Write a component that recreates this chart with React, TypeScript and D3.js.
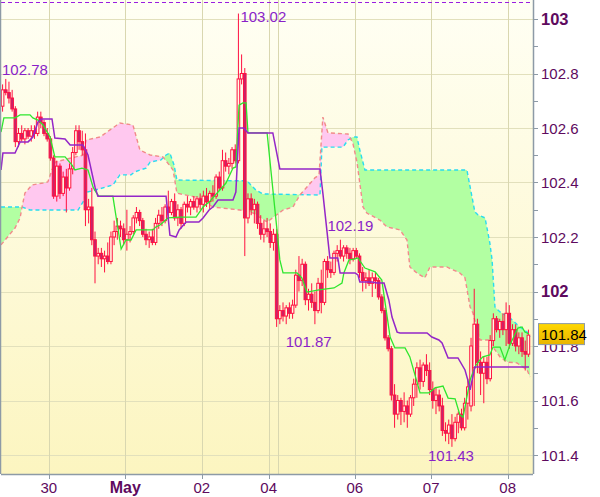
import React from 'react';
import * as d3 from 'd3';

const W = 600;
const H = 497;

// hourly candles [open, high, low, close]
const candles: [number, number, number, number][] = [
  [102.68, 102.76, 102.66, 102.74], [102.74, 102.78, 102.72, 102.73], [102.73, 102.77, 102.69, 102.71], [102.71, 102.74, 102.66, 102.67],
  [102.67, 102.68, 102.53, 102.55], [102.55, 102.60, 102.53, 102.58], [102.58, 102.61, 102.55, 102.56], [102.56, 102.60, 102.54, 102.59],
  [102.59, 102.60, 102.56, 102.57], [102.57, 102.61, 102.55, 102.59], [102.59, 102.61, 102.56, 102.58], [102.58, 102.66, 102.57, 102.64],
  [102.64, 102.66, 102.60, 102.62], [102.62, 102.63, 102.57, 102.58], [102.58, 102.60, 102.55, 102.56], [102.56, 102.57, 102.48, 102.49],
  [102.49, 102.50, 102.34, 102.35], [102.35, 102.48, 102.33, 102.46], [102.46, 102.47, 102.34, 102.36], [102.36, 102.44, 102.35, 102.42],
  [102.42, 102.45, 102.29, 102.38], [102.38, 102.47, 102.37, 102.45], [102.45, 102.53, 102.43, 102.51], [102.51, 102.61, 102.50, 102.59],
  [102.59, 102.61, 102.52, 102.55], [102.55, 102.59, 102.50, 102.52], [102.52, 102.58, 102.24, 102.30], [102.30, 102.34, 102.25, 102.31],
  [102.31, 102.38, 102.17, 102.19], [102.19, 102.22, 102.03, 102.13], [102.13, 102.16, 102.10, 102.14], [102.14, 102.16, 102.09, 102.12],
  [102.12, 102.15, 102.07, 102.13], [102.13, 102.18, 102.10, 102.11], [102.11, 102.22, 102.10, 102.20], [102.20, 102.26, 102.17, 102.22],
  [102.22, 102.27, 102.19, 102.24], [102.24, 102.26, 102.20, 102.23], [102.23, 102.25, 102.17, 102.19], [102.19, 102.30, 102.15, 102.21],
  [102.21, 102.24, 102.18, 102.22], [102.22, 102.28, 102.21, 102.27], [102.27, 102.31, 102.25, 102.29], [102.29, 102.30, 102.24, 102.26],
  [102.26, 102.27, 102.20, 102.21], [102.21, 102.23, 102.17, 102.19], [102.19, 102.22, 102.16, 102.20], [102.20, 102.23, 102.17, 102.18],
  [102.18, 102.27, 102.17, 102.25], [102.25, 102.30, 102.23, 102.28], [102.28, 102.31, 102.24, 102.26], [102.26, 102.32, 102.25, 102.31],
  [102.31, 102.37, 102.27, 102.29], [102.29, 102.34, 102.28, 102.33], [102.33, 102.36, 102.26, 102.27], [102.27, 102.32, 102.24, 102.30],
  [102.30, 102.31, 102.23, 102.25], [102.25, 102.33, 102.24, 102.32], [102.32, 102.35, 102.29, 102.31], [102.31, 102.34, 102.28, 102.33],
  [102.33, 102.35, 102.30, 102.31], [102.31, 102.35, 102.29, 102.34], [102.34, 102.36, 102.30, 102.32], [102.32, 102.37, 102.29, 102.35],
  [102.35, 102.38, 102.31, 102.33], [102.33, 102.37, 102.30, 102.36], [102.36, 102.39, 102.33, 102.35], [102.35, 102.43, 102.34, 102.42],
  [102.42, 102.44, 102.37, 102.38], [102.38, 102.52, 102.37, 102.48], [102.48, 102.51, 102.44, 102.46], [102.46, 102.49, 102.43, 102.47],
  [102.47, 102.53, 102.45, 102.52], [102.52, 102.54, 102.47, 102.48], [102.48, 103.02, 102.47, 102.78], [102.78, 102.87, 102.76, 102.80],
  [102.80, 102.82, 102.13, 102.27], [102.27, 102.36, 102.25, 102.34], [102.34, 102.36, 102.28, 102.30], [102.30, 102.34, 102.25, 102.32],
  [102.32, 102.33, 102.23, 102.25], [102.25, 102.28, 102.19, 102.21], [102.21, 102.26, 102.18, 102.23], [102.23, 102.27, 102.20, 102.22],
  [102.22, 102.25, 102.16, 102.18], [102.18, 102.23, 102.15, 102.21], [102.21, 102.23, 101.87, 101.90], [101.90, 101.95, 101.88, 101.93],
  [101.93, 101.96, 101.89, 101.91], [101.91, 101.95, 101.88, 101.94], [101.94, 101.96, 101.90, 101.92], [101.92, 101.97, 101.90, 101.95],
  [101.95, 102.08, 101.94, 102.06], [102.06, 102.13, 102.00, 102.04], [102.04, 102.12, 102.02, 102.10], [102.10, 102.11, 101.95, 101.97],
  [101.97, 102.01, 101.93, 101.99], [101.99, 102.03, 101.94, 101.96], [101.96, 102.00, 101.88, 101.93], [101.93, 102.05, 101.92, 102.03],
  [102.03, 102.08, 101.92, 101.96], [101.96, 102.12, 101.95, 102.11], [102.11, 102.13, 102.05, 102.08], [102.08, 102.11, 102.05, 102.07],
  [102.07, 102.15, 102.06, 102.14], [102.14, 102.17, 102.11, 102.15], [102.15, 102.19, 102.12, 102.13], [102.13, 102.17, 102.11, 102.16],
  [102.16, 102.17, 102.12, 102.14], [102.14, 102.16, 102.10, 102.12], [102.12, 102.16, 102.11, 102.15], [102.15, 102.16, 102.12, 102.13],
  [102.13, 102.14, 102.05, 102.07], [102.07, 102.09, 102.00, 102.04], [102.04, 102.07, 102.01, 102.05], [102.05, 102.08, 102.02, 102.03],
  [102.03, 102.07, 101.98, 102.05], [102.05, 102.07, 102.01, 102.04], [102.04, 102.05, 101.97, 101.98], [101.98, 101.99, 101.92, 101.93],
  [101.93, 101.94, 101.82, 101.83], [101.83, 101.84, 101.78, 101.79], [101.79, 101.80, 101.60, 101.62], [101.62, 101.66, 101.50, 101.55],
  [101.55, 101.62, 101.53, 101.60], [101.60, 101.61, 101.51, 101.56], [101.56, 101.63, 101.52, 101.58], [101.58, 101.60, 101.50, 101.55],
  [101.55, 101.62, 101.54, 101.61], [101.61, 101.68, 101.58, 101.66], [101.66, 101.74, 101.61, 101.72], [101.72, 101.75, 101.64, 101.67],
  [101.67, 101.74, 101.65, 101.73], [101.73, 101.77, 101.69, 101.71], [101.71, 101.74, 101.62, 101.64], [101.64, 101.67, 101.57, 101.60],
  [101.60, 101.65, 101.55, 101.62], [101.62, 101.64, 101.56, 101.58], [101.58, 101.61, 101.47, 101.49], [101.49, 101.52, 101.45, 101.48],
  [101.48, 101.53, 101.44, 101.51], [101.51, 101.55, 101.43, 101.46], [101.46, 101.54, 101.45, 101.52], [101.52, 101.56, 101.48, 101.55],
  [101.55, 101.57, 101.49, 101.50], [101.50, 101.61, 101.49, 101.59], [101.59, 101.68, 101.53, 101.65], [101.58, 101.83, 101.56, 101.80],
  [101.72, 102.01, 101.58, 101.88], [101.88, 101.90, 101.70, 101.74], [101.74, 101.78, 101.62, 101.70], [101.70, 101.76, 101.59, 101.74],
  [101.74, 101.76, 101.66, 101.68], [101.68, 101.84, 101.67, 101.82], [101.82, 101.92, 101.80, 101.90], [101.90, 101.91, 101.85, 101.86],
  [101.86, 101.90, 101.83, 101.89], [101.89, 101.92, 101.84, 101.86], [101.86, 101.96, 101.80, 101.92], [101.92, 101.95, 101.79, 101.81],
  [101.81, 101.88, 101.80, 101.86], [101.86, 101.88, 101.78, 101.80], [101.80, 101.85, 101.77, 101.83], [101.83, 101.85, 101.76, 101.78],
  [101.78, 101.82, 101.71, 101.77], [101.77, 101.86, 101.76, 101.84],
];

// day boundaries (candle index) and labels
const dayTickIdx = [15, 39, 63, 84, 87, 111, 135, 159];
const dayTickLabels = ['30', 'May', '02', '04', '', '06', '07', '08'];

const priceMajor = [101.4, 101.6, 101.8, 102, 102.2, 102.4, 102.6, 102.8, 103];
const priceMinor = [101.5, 101.7, 101.9, 102.1, 102.3, 102.5, 102.7, 102.9];
const boldPrices = [102, 103];

// indicator lines: [position in candle units, price]
const tenkan: [number, number][] = [
  [0, 102.585], [0.9, 102.637], [4.4, 102.637], [6.0, 102.648], [9.1, 102.648], [10.0, 102.637], [11.6, 102.629],
  [13.2, 102.611], [15.4, 102.567], [16.9, 102.494], [20.1, 102.494], [22.3, 102.464], [23.2, 102.446], [25.4, 102.453],
  [27.3, 102.446], [28.9, 102.383], [29.8, 102.365], [30.7, 102.35], [35.1, 102.35], [37.7, 102.156], [39.2, 102.189],
  [40.8, 102.189], [42.4, 102.226], [47.7, 102.226], [48.6, 102.237], [49.9, 102.244], [52.4, 102.27], [56.2, 102.273],
  [61.2, 102.273], [63.4, 102.31], [65.3, 102.328], [68.1, 102.365], [70.6, 102.398], [72.8, 102.453], [73.7, 102.457],
  [74.7, 102.684], [75.9, 102.692], [76.9, 102.692], [77.5, 102.582], [83.5, 102.582], [86.6, 102.226], [87.5, 102.116],
  [88.5, 102.068], [92.9, 102.068], [94.4, 102.05], [96.0, 101.998], [99.8, 102.006], [104.5, 102.013], [107.0, 102.031],
  [107.6, 102.068], [109.2, 102.116], [110.8, 102.119], [112.0, 102.123], [114.2, 102.086], [117.4, 102.072], [119.5, 102.042],
  [122.1, 101.833], [123.6, 101.793], [126.8, 101.793], [128.3, 101.76], [131.5, 101.628], [134.3, 101.628], [136.2, 101.646],
  [138.7, 101.653], [140.3, 101.609], [142.5, 101.606], [144.0, 101.547], [145.0, 101.539], [147.2, 101.675], [148.7, 101.723],
  [150.3, 101.749], [151.2, 101.76], [153.4, 101.767], [154.4, 101.796], [156.6, 101.796], [158.1, 101.749], [159.7, 101.804],
  [162.2, 101.866], [163.5, 101.87], [164.4, 101.851], [165.7, 101.844],
];

const kijun: [number, number][] = [
  [0, 102.446], [0.6, 102.508], [4.4, 102.508], [6.0, 102.549], [8.5, 102.549], [10.0, 102.567], [11.6, 102.622],
  [12.9, 102.633], [16.0, 102.633], [16.9, 102.563], [20.1, 102.56], [21.7, 102.538], [25.7, 102.538], [27.3, 102.501],
  [29.5, 102.383], [30.4, 102.35], [51.8, 102.35], [53.0, 102.207], [54.9, 102.2], [55.9, 102.226], [58.1, 102.255],
  [62.1, 102.255], [63.4, 102.27], [65.3, 102.299], [66.5, 102.31], [68.1, 102.336], [72.8, 102.336], [73.7, 102.365],
  [74.7, 102.6], [76.2, 102.6], [77.5, 102.582], [85.3, 102.582], [87.5, 102.45], [100.1, 102.45], [101.0, 102.361],
  [103.2, 102.123], [105.7, 102.123], [106.4, 102.068], [111.1, 102.068], [112.0, 102.061], [112.6, 102.035], [116.4, 102.035],
  [118.0, 102.031], [120.2, 102.031], [121.7, 101.969], [122.7, 101.906], [124.3, 101.851], [125.2, 101.848], [133.7, 101.848],
  [135.2, 101.833], [137.4, 101.822], [138.4, 101.811], [140.3, 101.756], [143.4, 101.756], [145.6, 101.712], [146.5, 101.675],
  [147.2, 101.639], [148.7, 101.723], [165.7, 101.723],
];

const spanA: [number, number][] = [
  [0, 102.31], [6.6, 102.31], [9.1, 102.299], [24.2, 102.299], [25.7, 102.328], [27.0, 102.365], [29.5, 102.372],
  [35.1, 102.391], [37.3, 102.428], [40.8, 102.428], [42.0, 102.439], [45.5, 102.453], [46.8, 102.475], [50.2, 102.483],
  [51.8, 102.501], [53.0, 102.508], [54.3, 102.464], [55.2, 102.409], [77.2, 102.406], [80.0, 102.372], [82.2, 102.358],
  [100.1, 102.354], [100.7, 102.53], [107.3, 102.53], [108.9, 102.556], [110.4, 102.567], [111.7, 102.567], [112.6, 102.519],
  [114.2, 102.446], [146.2, 102.446], [148.7, 102.292], [149.7, 102.281], [151.9, 102.27], [153.4, 102.178], [154.1, 102.116],
  [155.0, 101.943], [156.6, 101.925], [159.7, 101.903], [162.8, 101.87], [165.1, 101.851], [166.0, 101.833],
];

const spanB: [number, number][] = [
  [0, 102.171], [4.4, 102.233], [6.0, 102.27], [6.6, 102.31], [7.5, 102.361], [9.7, 102.391], [13.2, 102.398],
  [14.7, 102.402], [16.0, 102.446], [17.0, 102.475], [22.0, 102.49], [25.7, 102.50], [26.7, 102.556], [31.1, 102.567], [34.2, 102.593],
  [36.4, 102.611], [37.3, 102.618], [41.4, 102.611], [43.6, 102.519], [46.8, 102.501], [50.8, 102.494], [54.0, 102.446],
  [55.2, 102.361], [62.4, 102.343], [66.5, 102.31], [75.0, 102.299], [79.1, 102.288], [83.5, 102.255], [88.5, 102.299],
  [91.6, 102.31], [93.8, 102.354], [98.5, 102.417], [99.8, 102.428], [101.0, 102.64], [102.6, 102.582], [108.9, 102.578],
  [110.4, 102.545], [111.7, 102.475], [113.6, 102.31], [114.8, 102.288], [118.9, 102.262], [121.1, 102.237], [125.2, 102.226],
  [127.4, 102.189], [128.3, 102.09], [130.5, 102.068], [133.0, 102.05], [134.6, 102.09], [139.9, 102.09], [144.0, 102.068],
  [145.6, 102.05], [147.2, 101.943], [148.1, 101.921], [149.7, 101.848], [150.3, 101.822], [153.4, 101.822], [154.4, 101.796],
  [156.6, 101.76], [158.8, 101.741], [161.9, 101.738], [165.1, 101.712], [166.0, 101.686],
];

// extreme labels: candle index, price, text, placement
const extremes: { i: number; price: number; text: string; pos: string }[] = [
  { i: 0, price: 102.78, text: '102.78', pos: 'above-left' },
  { i: 74, price: 103.02, text: '103.02', pos: 'right' },
  { i: 86, price: 101.87, text: '101.87', pos: 'below' },
  { i: 106, price: 102.19, text: '102.19', pos: 'above' },
  { i: 141, price: 101.43, text: '101.43', pos: 'under' },
];

const lastPrice = 101.84;

const FONT = "'Liberation Sans', Arial, sans-serif";

export default function App() {
  const L = 1, R = 533, T = 0, B = 474;
  const x = d3.scaleLinear().domain([0, 166]).range([1, 530]);
  const y = d3.scaleLinear().domain([101.4, 103]).range([455, 19]);

  const line = d3.line<[number, number]>().x(d => x(d[0])).y(d => y(d[1]));
  const pathA = line(spanA)!;
  const pathB = line(spanB)!;
  const revB = line([...spanB].reverse())!.replace(/^M/, 'L');
  const cloudPoly = pathA + revB + 'Z';
  const bLast = spanB[spanB.length - 1];
  const bFirst = spanB[0];
  const aboveB = pathB + `L${x(bLast[0]) + 5},${y(bLast[1])}L${x(bLast[0]) + 5},-10L${x(bFirst[0]) - 5},-10L${x(bFirst[0]) - 5},${y(bFirst[1])}Z`;
  const belowB = pathB + `L${x(bLast[0]) + 5},${y(bLast[1])}L${x(bLast[0]) + 5},${H + 10}L${x(bFirst[0]) - 5},${H + 10}L${x(bFirst[0]) - 5},${y(bFirst[1])}Z`;

  const bodyW = 2.6;
  const purple = '#8a1fc8';
  const axisCol = '#5e0a5e';

  return (
    <svg width={W} height={H} style={{ position: 'absolute', left: 0, top: 0, background: '#fff' }} fontFamily={FONT}>
      <defs>
        <linearGradient id="bg" x1="0" y1="0" x2="0" y2="1">
          <stop offset="0" stopColor="#fffff4" />
          <stop offset="1" stopColor="#fcf5c0" />
        </linearGradient>
        <linearGradient id="gold" x1="0" y1="0" x2="0" y2="1">
          <stop offset="0" stopColor="#ffd800" />
          <stop offset="1" stopColor="#e8b400" />
        </linearGradient>
        <clipPath id="plot"><rect x={L} y={T} width={R - L} height={B - T} /></clipPath>
        <clipPath id="aboveB"><path d={aboveB} /></clipPath>
        <clipPath id="belowB"><path d={belowB} /></clipPath>
      </defs>
      <rect x={0} y={0} width={W} height={H} fill="#fff" />
      <rect x={L} y={T} width={R - L} height={B - T} fill="url(#bg)" />

      {/* grid */}
      <g stroke="#e2e0bc" strokeWidth={1}>
        {priceMajor.map(v => (
          <line key={v} x1={L} x2={R} y1={Math.round(y(v)) + 0.5} y2={Math.round(y(v)) + 0.5} />
        ))}
      </g>
      <g stroke="#d9d7b0" strokeWidth={1}>
        {dayTickIdx.map(i => (
          <line key={i} x1={Math.round(x(i)) + 0.5} x2={Math.round(x(i)) + 0.5} y1={T} y2={B} />
        ))}
      </g>

      <g clipPath="url(#plot)">
        {/* cloud */}
        <g clipPath="url(#aboveB)">
          <path d={cloudPoly} fill="#b2ffa2" fillRule="evenodd" />
        </g>
        <g clipPath="url(#belowB)">
          <path d={cloudPoly} fill="#ffc8ef" fillRule="evenodd" />
        </g>
        <path d={pathA} fill="none" stroke="#28dcf0" strokeWidth={1.4} strokeDasharray="4 3" />
        <path d={pathB} fill="none" stroke="#f28a8a" strokeWidth={1.4} strokeDasharray="4 3" />

        {/* top dashed line */}
        <line x1={L} x2={R} y1={2.5} y2={2.5} stroke="#9a1ee0" strokeWidth={1} strokeDasharray="4 3" />

        {/* candles */}
        {candles.map((c, i) => {
          const [o, h, l, cl] = c;
          const cx = x(i + 0.5);
          const up = cl >= o;
          const top = y(Math.max(o, cl));
          const bot = y(Math.min(o, cl));
          return (
            <g key={i}>
              <line x1={cx} x2={cx} y1={y(h)} y2={y(l)} stroke="#ff1040" strokeWidth={1} />
              <rect x={cx - bodyW / 2} y={top} width={bodyW} height={Math.max(1, bot - top)}
                fill={up ? '#fffde6' : '#c6246c'} stroke="#ff1040" strokeWidth={1} />
            </g>
          );
        })}

        {/* tenkan / kijun */}
        <path d={line(tenkan)!} fill="none" stroke="#2ee62e" strokeWidth={1.3} />
        <path d={line(kijun)!} fill="none" stroke="#9426c8" strokeWidth={1.5} />

        {/* extreme labels */}
        {extremes.map(e => {
          const cx = x(e.i + 0.5);
          const cy = y(e.price);
          let tx = cx, ty = cy, anchor: any = 'middle';
          if (e.pos === 'above-left') { tx = 2; ty = cy - 4; anchor = 'start'; }
          else if (e.pos === 'right') { tx = cx + 2; ty = cy + 8; anchor = 'start'; }
          else if (e.pos === 'below') { tx = cx + 32; ty = cy + 20; anchor = 'middle'; }
          else if (e.pos === 'above') { tx = cx + 10; ty = cy - 9; anchor = 'middle'; }
          else if (e.pos === 'under') { tx = cx - 1; ty = cy + 14; anchor = 'middle'; }
          return (
            <text key={e.text} x={tx} y={ty} textAnchor={anchor} fontSize={15} fill={purple}>{e.text}</text>
          );
        })}
      </g>

      {/* frame */}
      <line x1={L - 0.5} x2={L - 0.5} y1={T} y2={B} stroke="#8d9aa6" strokeWidth={1.5} />
      <line x1={L} x2={R} y1={B + 0.5} y2={B + 0.5} stroke="#8d9aa6" strokeWidth={1.5} />
      <line x1={R + 0.5} x2={R + 0.5} y1={T} y2={B} stroke="#8d9aa6" strokeWidth={1.5} />

      {/* right axis */}
      <g stroke="#8d9aa6" strokeWidth={1}>
        {priceMajor.concat(priceMinor).map(v => (
          <line key={v} x1={R} x2={R + 5} y1={Math.round(y(v)) + 0.5} y2={Math.round(y(v)) + 0.5} />
        ))}
      </g>
      {priceMajor.map(v => {
        const bold = boldPrices.includes(v);
        return (
          <text key={v} x={R + 8} y={y(v) + 5.5} fontSize={bold ? 16.5 : 15} fontWeight={bold ? 'bold' : 'normal'}
            fill={axisCol}>{bold ? String(v) : v.toFixed(1)}</text>
        );
      })}

      {/* last price label */}
      <rect x={538.5} y={y(lastPrice) - 11.5} width={46} height={21} fill="url(#gold)" stroke="#8d9aa6" strokeWidth={1} />
      <text x={541} y={y(lastPrice) + 4.5} fontSize={15} fill="#000">{lastPrice.toFixed(2)}</text>

      {/* bottom axis */}
      <g stroke="#8d9aa6" strokeWidth={1}>
        {dayTickIdx.map((i, k) => dayTickLabels[k] ? (
          <line key={i} x1={Math.round(x(i)) + 0.5} x2={Math.round(x(i)) + 0.5} y1={B} y2={B + 5} />
        ) : null)}
      </g>
      {dayTickIdx.map((i, k) => dayTickLabels[k] ? (
        <text key={i} x={x(i)} y={493} textAnchor="middle" fontSize={dayTickLabels[k] === 'May' ? 16 : 15}
          fontWeight={dayTickLabels[k] === 'May' ? 'bold' : 'normal'} fill={axisCol}>{dayTickLabels[k]}</text>
      ) : null)}
    </svg>
  );
}
